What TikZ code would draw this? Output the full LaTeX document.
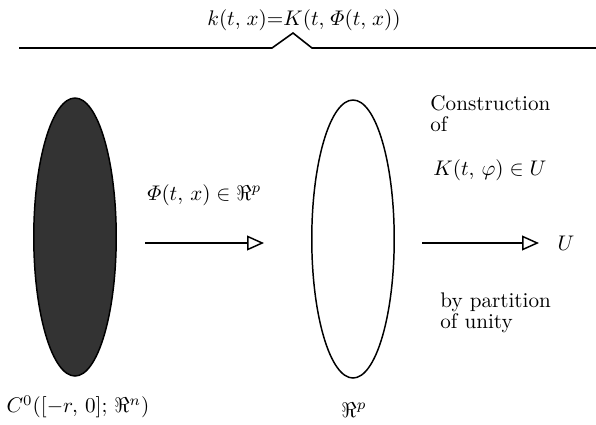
\documentclass[tikz,border=0pt]{standalone}
\usepackage{amsmath,amssymb}
\usetikzlibrary{arrows.meta,shapes.geometric}

\begin{document}
\begin{tikzpicture}[
    x=0.473pt, y=-0.473pt,
    blob/.style={draw, ellipse, line width=0.7pt, inner sep=0pt, minimum width=39pt, minimum height=131.5pt},
    arr/.style={-{Triangle[open, length=8pt, width=7pt]}, line width=0.7pt},
    txt/.style={inner sep=0pt, align=left}
]
\useasboundingbox (0,0) rectangle (596,424);

% top formula and its brace
\node[txt] (kform) at (304,20) {$k(t,\mskip2mu x){=}K(t,\mskip2mu\varPhi(t,\mskip2mu x))$};
\draw[line width=0.75pt] (19,48) -- (272,48) -- (293,33) -- (312,48) -- (596,48);

% the two spaces
\node[blob, fill=black!80] (cspace) at (75,237) {};
\node[blob] (rspace) at (353,239) {};
\node[txt] (clbl) at (78,407) {$C^0([-r,\,0];\,\Re^n)$};
\node[txt] (rlbl) at (354,410) {$\Re^p$};

% target
\node[txt] (uspace) at (566,243) {$U$};

% arrow ends
\coordinate (a1s) at (145,243);
\coordinate (a1e) at (264,243);
\coordinate (a2s) at (422,243);
\coordinate (a2e) at (539,243);

% Arrows
\draw[arr] (a1s) -- (a1e);
\draw[arr] (a2s) -- (a2e);
\node[txt, anchor=west] (philbl) at (147,195) {$\varPhi(t,\,x)\in\Re^p$};

% construction notes
\node[txt, anchor=north west] (cnote) at (430,95) {Construction\\[-1.8pt]of};
\node[txt, anchor=west] (knote) at (433,170) {$K(t,\,\varphi)\in U$};
\node[txt, anchor=north west] (pnote) at (440,292) {by partition\\[-1.8pt]of unity};

\end{tikzpicture}
\end{document}
